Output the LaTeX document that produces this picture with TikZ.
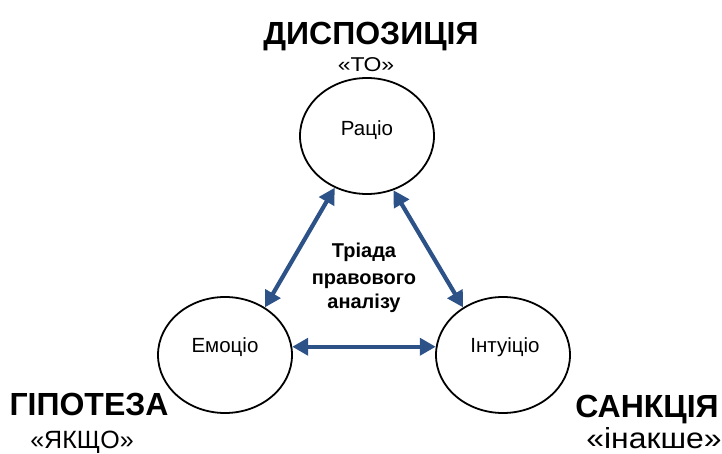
\documentclass[tikz,border=0pt]{standalone}
\usepackage{fontspec}
\setmainfont{Liberation Sans}
\usetikzlibrary{arrows.meta,shapes.geometric}
\definecolor{arrblue}{HTML}{2C5287}
\tikzset{
  ell/.style={ellipse, draw=black, line width=1.8pt, minimum width=134pt, minimum height=116pt, inner sep=0pt},
  lbl/.style={anchor=base, inner sep=0pt, font=\fontsize{20.5}{24}\selectfont},
  head/.style={anchor=base, inner sep=0pt, font=\fontsize{32}{36}\selectfont\bfseries},
  sub/.style={anchor=base, inner sep=0pt},
  mid/.style={anchor=base, inner sep=0pt, font=\fontsize{20}{24}\selectfont\bfseries},
  link/.style={arrblue, line width=4.2pt, {Triangle[length=16pt,width=17pt]}-{Triangle[length=16pt,width=17pt]}}
}
\begin{document}
\begin{tikzpicture}[x=1pt,y=-1pt]
\useasboundingbox (0,0) rectangle (722,454);
% circles
\node[ell] (rac) at (367,136) {};
\node[ell] (emo) at (225,355) {};
\node[ell] (int) at (503,355) {};
% labels inside
\node[lbl] (tr) at (367,136) {Раціо};
\node[lbl] (te) at (225,352) {Емоціо};
\node[lbl] (ti) at (505,352) {Інтуіціо};
% headings
\node[head] (hd) at (371,45) {ДИСПОЗИЦІЯ};
\node[sub, font=\fontsize{20}{24}\selectfont] (sd) at (366,72) {\scalebox{1.15}[1]{«ТО»}};
\node[head] (hg) at (89,415) {ГІПОТЕЗА};
\node[sub, font=\fontsize{25}{28}\selectfont] (sg) at (82,448) {«ЯКЩО»};
\node[head] (hs) at (647,417) {САНКЦІЯ};
\node[sub, font=\fontsize{29}{32}\selectfont] (ss) at (654,448) {\scalebox{1.1}[1]{«інакше»}};
% centre text
\node[mid] (m1) at (364,258) {Тріада};
\node[mid] (m2) at (364,284) {правового};
\node[mid] (m3) at (364,308) {аналізу};
% connectors
\draw[link] (rac.238) -- (emo.50);
\draw[link] (rac.296) -- (int.130);
\draw[link] (emo.7) -- (int.173);
\end{tikzpicture}
\end{document}
